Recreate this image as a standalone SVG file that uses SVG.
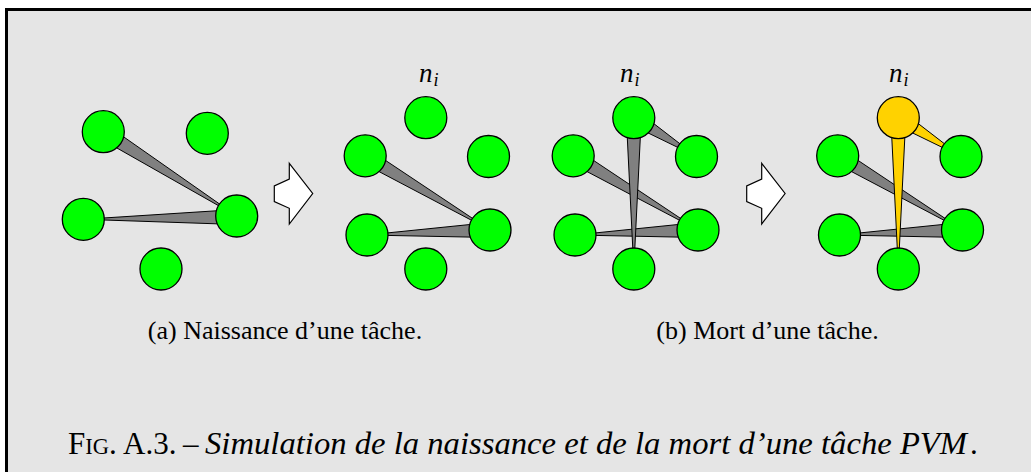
<svg xmlns="http://www.w3.org/2000/svg" width="1031" height="472" viewBox="0 0 1031 472">
<defs>
<style>
.n{fill:#00ff00;stroke:#000;stroke-width:1.3}
.ny{fill:#ffd200;stroke:#000;stroke-width:1.3}
.w{fill:#808080;stroke:#000;stroke-width:1;stroke-linejoin:round}
.wy{fill:#ffd200;stroke:#000;stroke-width:1;stroke-linejoin:round}
.ar{fill:#fff;stroke:#000;stroke-width:1.2;stroke-linejoin:miter}
.t{font-family:"Liberation Serif","Times New Roman",serif;fill:#000}
.it{font-style:italic}
</style>
</defs>
<rect x="0" y="0" width="1031" height="472" fill="#fff"/>
<rect x="6.5" y="9.5" width="1040" height="480" fill="#e5e5e5" stroke="#000" stroke-width="3"/>

<g id="connectors">
  <!-- panel 1 -->
  <polygon class="w" points="99.3,138 107.3,125.4 236.7,216"/>
  <polygon class="w" points="236.5,209.5 236.9,224.5 83.3,219.3"/>
  <!-- panel 2 -->
  <polygon class="w" points="361.4,162.3 369,149.4 490,230"/>
  <polygon class="w" points="489.7,222.5 490.3,237.5 367,235"/>
  <!-- panel 3 -->
  <polygon class="w" points="569.4,162.3 577,149.4 698,230"/>
  <polygon class="w" points="697.7,222.5 698.3,237.5 575,235"/>
  <polygon class="w" points="626.3,117.7 641.3,117.7 633.8,269"/>
  <polygon class="w" points="629.9,124.1 637.8,111.3 696.5,156.5"/>
  <!-- panel 4 -->
  <polygon class="w" points="833.9,162.3 841.5,149.4 962.5,230"/>
  <polygon class="w" points="962.2,222.5 962.8,237.5 839.5,235"/>
  <polygon class="wy" points="890.8,117.7 905.8,117.7 898.3,269"/>
  <polygon class="wy" points="894.4,124.1 902.3,111.3 961,156.5"/>
</g>

<g id="arrow1"><polygon class="ar" points="289.3,163.3 312.7,193.5 289.3,224 289.3,208.3 274.3,201.5 274.3,186 289.3,179"/></g>
<g id="arrow2"><polygon class="ar" points="761.7,163.3 785.1,193.5 761.7,224 761.7,208.3 746.7,201.5 746.7,186 761.7,179"/></g>

<!-- panel 1 nodes -->
<g id="p1-a"><circle class="n" cx="103.3" cy="131.7" r="21"/></g>
<g id="p1-b"><circle class="n" cx="207.3" cy="133.3" r="21"/></g>
<g id="p1-c"><circle class="n" cx="83.3" cy="219.3" r="21"/></g>
<g id="p1-d"><circle class="n" cx="236.7" cy="216" r="21"/></g>
<g id="p1-e"><circle class="n" cx="161" cy="269" r="21"/></g>

<!-- panel 2 nodes -->
<g id="p2-top"><circle class="n" cx="425.8" cy="117.7" r="21"/></g>
<g id="p2-lu"><circle class="n" cx="365.2" cy="155.8" r="21"/></g>
<g id="p2-ru"><circle class="n" cx="488.5" cy="156.5" r="21"/></g>
<g id="p2-ll"><circle class="n" cx="367" cy="235" r="21"/></g>
<g id="p2-rl"><circle class="n" cx="490" cy="230" r="21"/></g>
<g id="p2-b"><circle class="n" cx="425.8" cy="269" r="21"/></g>

<!-- panel 3 nodes -->
<g id="p3-top"><circle class="n" cx="633.8" cy="117.7" r="21"/></g>
<g id="p3-lu"><circle class="n" cx="573.2" cy="155.8" r="21"/></g>
<g id="p3-ru"><circle class="n" cx="696.5" cy="156.5" r="21"/></g>
<g id="p3-ll"><circle class="n" cx="575" cy="235" r="21"/></g>
<g id="p3-rl"><circle class="n" cx="698" cy="230" r="21"/></g>
<g id="p3-b"><circle class="n" cx="633.8" cy="269" r="21"/></g>

<!-- panel 4 nodes -->
<g id="p4-top"><circle class="ny" cx="898.3" cy="117.7" r="21"/></g>
<g id="p4-lu"><circle class="n" cx="837.7" cy="155.8" r="21"/></g>
<g id="p4-ru"><circle class="n" cx="961" cy="156.5" r="21"/></g>
<g id="p4-ll"><circle class="n" cx="839.5" cy="235" r="21"/></g>
<g id="p4-rl"><circle class="n" cx="962.5" cy="230" r="21"/></g>
<g id="p4-b"><circle class="n" cx="898.3" cy="269" r="21"/></g>

<!-- labels n_i -->
<g id="labels" class="t it">
  <text x="419" y="81.7" font-size="27">n<tspan font-size="18" dy="4" dx="1">i</tspan></text>
  <text x="620" y="81.7" font-size="27">n<tspan font-size="18" dy="4" dx="1">i</tspan></text>
  <text x="889" y="81.7" font-size="27">n<tspan font-size="18" dy="4" dx="1">i</tspan></text>
</g>

<text class="t" x="285" y="338.5" font-size="26" text-anchor="middle">(a) Naissance d’une tâche.</text>
<text class="t" x="767.5" y="338.5" font-size="26" text-anchor="middle">(b) Mort d’une tâche.</text>

<g id="caption" class="t">
  <text x="68" y="454" font-size="31">F<tspan font-size="22.5">IG</tspan>.<tspan x="123">A.3.</tspan><tspan x="183">–</tspan><tspan x="970">.</tspan></text>
  <text class="it" x="205" y="454" font-size="32" textLength="762" lengthAdjust="spacingAndGlyphs">Simulation de la naissance et de la mort d’une tâche PVM</text>
</g>
</svg>
